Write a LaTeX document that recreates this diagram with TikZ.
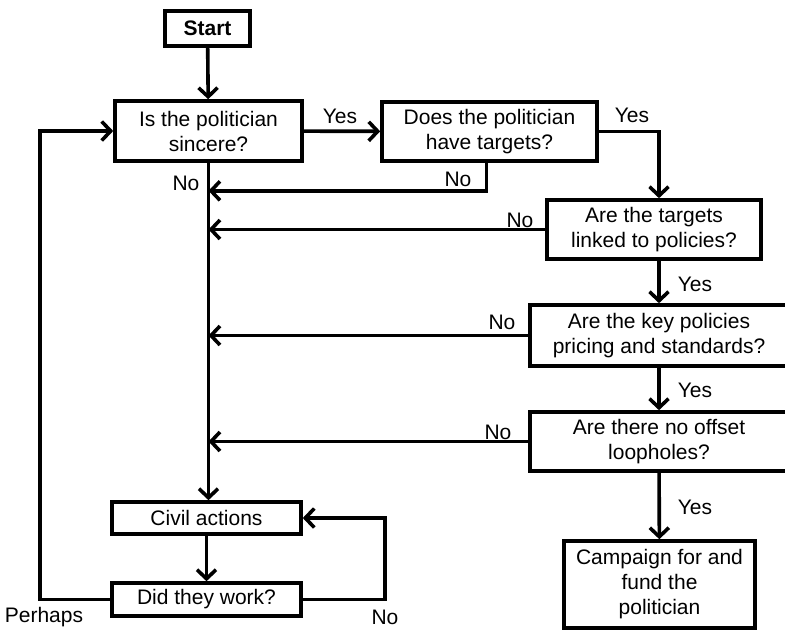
\documentclass[tikz,border=0pt]{standalone}
\usepackage{fontspec}
\setmainfont{Liberation Sans}
\usetikzlibrary{arrows.meta}
\begin{document}
\begin{tikzpicture}[x=1pt,y=-1pt,line width=3.6pt,
  every node/.style={font=\fontsize{21}{25}\selectfont},
  box/.style={draw,align=center,inner sep=0pt},
  arr/.style={-{Straight Barb[length=9pt,width=19pt]}}]
\useasboundingbox (0,0) rectangle (785,632);

\node[box,minimum width=85pt,minimum height=35pt] (start) at (207.5,28.5) {\textbf{Start}};
\node[box,minimum width=187pt,minimum height=60pt] (sincere) at (208.5,131) {Is the politician\\sincere?};
\node[box,minimum width=215pt,minimum height=59pt] (targets) at (489.5,131.5) {Does the politician\\have targets?};
\node[box,minimum width=214pt,minimum height=59pt] (linked) at (654,229.5) {Are the targets\\linked to policies?};
\node[box,minimum width=258pt,minimum height=61pt] (pricing) at (659,335.5) {Are the key policies\\pricing and standards?};
\node[box,minimum width=258pt,minimum height=59pt] (offset) at (659,441.5) {Are there no offset\\loopholes?};
\node[box,minimum width=191pt,minimum height=87pt] (campaign) at (659.5,584.5) {Campaign for and\\fund the\\politician};
\node[box,minimum width=189pt,minimum height=32pt] (civil) at (206.5,518) {Civil actions};
\node[box,minimum width=189pt,minimum height=33pt] (work) at (206.5,599.5) {Did they work?};

\draw[arr] (start) -- (sincere);
\draw[arr] (sincere) -- (targets);
\draw[arr] (targets.east) -| (pricing.north |- linked.north);
\draw[arr] (pricing.north |- linked.south) -- (pricing);
\draw[arr] (pricing) -- (offset);
\draw[arr] (offset) -- (campaign);
\draw[arr] (sincere.south) -- (sincere.south |- civil.north);
\draw[arr] ([xshift=-3pt]targets.south) |- ([yshift=-28pt]sincere.south);
\draw[arr] (linked.west) -- (linked.west -| sincere.south);
\draw[arr] (pricing.west) -- (pricing.west -| sincere.south);
\draw[arr] (offset.west) -- (offset.west -| sincere.south);
\draw[arr] (civil) -- (work);
\draw[arr] (work.east) -- ++(82,0) |- (civil.east);
\draw[arr] (work.west) -- ++(-70,0) |- (sincere.west);

\node (yes1) at (340,116) {Yes};
\node (yes2) at (632,115) {Yes};
\node (yes3) at (695,284) {Yes};
\node (yes4) at (695,390) {Yes};
\node (yes5) at (695,507) {Yes};
\node (no1) at (186,183) {No};
\node (no2) at (458,179) {No};
\node (no3) at (520,220) {No};
\node (no4) at (502,322) {No};
\node (no5) at (498,432) {No};
\node (no6) at (385,617) {No};
\node (perhaps) at (44,617) {Perhaps};
\end{tikzpicture}
\end{document}
